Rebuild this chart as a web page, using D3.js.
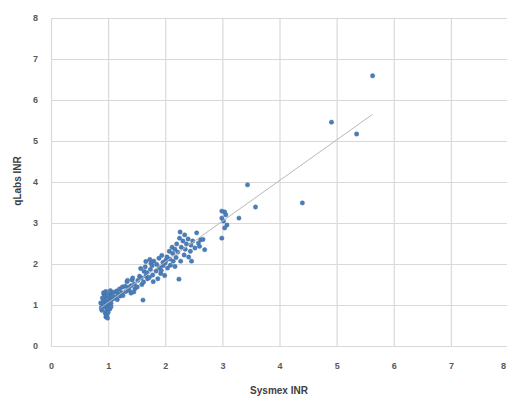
<!DOCTYPE html>
<html><head><meta charset="utf-8">
<script src="https://cdn.jsdelivr.net/npm/d3@7"></script>
<style>html,body{margin:0;padding:0;background:#fff;overflow:hidden}</style>
</head><body><svg id="c" width="507" height="399"></svg>
<script>
const xTicks = [0,1,2,3,4,5,6,7,8];
const yTicks = [0,1,2,3,4,5,6,7,8];
const xTitle = "Sysmex INR";
const yTitle = "qLabs INR";
const sysmex = [
0.87,0.91,0.92,0.89,0.93,0.95,0.88,0.94,0.95,0.97,0.93,0.96,0.96,1.01,0.97,0.98,0.92,0.98,0.99,1.03,1.00,1.00,0.95,1.02,1.06,1.03,1.04,1.05,0.90,0.99,0.96,1.09,1.08,1.05,0.99,1.04,1.10,1.13,1.17,
1.15,1.21,1.20,1.24,1.25,1.31,1.30,1.37,1.35,1.33,1.40,1.40,1.42,1.47,1.46,1.43,1.51,1.16,1.26,1.34,1.45,
1.52,1.55,1.59,1.58,1.63,1.62,1.66,1.65,1.69,1.68,1.75,1.72,1.74,1.79,1.77,1.78,1.80,1.84,1.87,1.85,1.89,1.92,1.90,1.96,1.93,1.94,1.96,2.01,1.99,1.61,1.66,1.73,1.57,
2.00,2.04,2.03,2.07,2.09,2.08,2.12,2.14,2.13,2.17,2.17,2.19,2.20,2.22,2.27,2.25,2.26,2.28,2.33,2.31,2.34,2.35,2.37,2.41,2.40,2.44,2.46,2.45,2.48,2.52,2.24,2.55,2.58,2.60,2.62,2.66,2.69,
2.99,3.04,2.99,3.08,3.04,2.99,3.02,3.06,
3.29,3.44,3.58,4.40,4.91,5.35,5.63];
const qlabs = [
1.05,0.98,1.10,0.87,1.02,1.21,0.93,1.13,0.80,1.06,1.26,0.94,0.71,1.12,0.84,1.00,1.30,0.76,0.92,1.19,1.07,0.82,1.23,0.99,1.13,0.90,1.27,1.04,1.17,1.24,1.33,1.16,1.21,0.96,0.68,1.35,1.31,1.19,1.28,
1.34,1.22,1.39,1.30,1.44,1.33,1.46,1.36,1.43,1.57,1.29,1.47,1.61,1.40,1.51,1.66,1.44,1.13,1.23,1.60,1.32,
1.60,1.70,1.50,1.66,1.82,1.56,1.71,1.93,1.64,1.79,2.02,1.67,1.87,1.57,1.96,1.73,2.07,1.83,1.64,1.99,2.14,1.77,1.91,2.04,1.84,2.21,1.96,2.09,1.72,1.12,2.06,2.11,1.89,
2.03,1.90,2.17,2.31,1.97,2.12,2.41,2.07,2.26,1.94,2.36,2.16,2.49,2.29,2.07,2.63,2.78,2.41,2.22,2.56,2.71,2.36,2.49,2.17,2.61,2.31,2.07,2.46,2.56,2.39,1.63,2.76,2.51,2.43,2.59,2.60,2.35,
3.29,3.27,3.12,2.95,2.88,2.63,3.05,3.20,
3.12,3.93,3.39,3.49,5.46,5.17,6.59];

const W = 507;
const svg = d3.select("#c");
const x = d3.scaleLinear().domain([0,8]).range([51,508]);
const y = d3.scaleLinear().domain([0,8]).range([346,18]);
const font = "Liberation Sans, Arial, sans-serif";

// gridlines + x tick labels
const gx = svg.append("g").attr("transform","translate(0,346)")
  .call(d3.axisBottom(x).tickValues(xTicks).tickSize(-328).tickFormat(d=>d).tickPadding(17));
gx.select(".domain").remove();
gx.selectAll("line").attr("stroke","#d9d9d9").attr("stroke-width",1.2);
gx.selectAll("text").attr("fill","#595959").attr("font-family",font).attr("font-size","9px").attr("font-weight","bold");
// keep the last label inside the frame
gx.selectAll(".tick").each(function(d){
  const tx = x(d);
  if (tx > W - 5) d3.select(this).select("text").attr("dx", (W - 4 - tx) + "px");
});

const gy = svg.append("g").attr("transform","translate(51,0)")
  .call(d3.axisLeft(y).tickValues(yTicks).tickSize(-460).tickFormat(d=>d).tickPadding(13));
gy.select(".domain").remove();
gy.selectAll("line").attr("stroke","#d9d9d9").attr("stroke-width",1.2);
gy.selectAll("text").attr("fill","#595959").attr("font-family",font).attr("font-size","9px").attr("font-weight","bold");

// points
const data = sysmex.map((v,i)=>({x:v,y:qlabs[i]}));
svg.append("g").selectAll("circle").data(data).join("circle")
  .attr("cx",d=>x(d.x)).attr("cy",d=>y(d.y)).attr("r",2.2)
  .attr("fill","#4a7ebb").attr("stroke","#3d6aa0").attr("stroke-width",0.4);

// linear trendline (least squares)
const mx = d3.mean(data,d=>d.x), my = d3.mean(data,d=>d.y);
const slope = d3.sum(data,d=>(d.x-mx)*(d.y-my))/d3.sum(data,d=>(d.x-mx)*(d.x-mx));
const icpt = my - slope*mx;
const [x0,x1] = d3.extent(data,d=>d.x);
svg.append("line").attr("x1",x(x0)).attr("y1",y(icpt+slope*x0))
  .attr("x2",x(x1)).attr("y2",y(icpt+slope*x1))
  .attr("stroke","#b8b8b8").attr("stroke-width",1);

// titles
svg.append("text").attr("x",279).attr("y",394).attr("text-anchor","middle")
  .attr("font-family",font).attr("font-size","10px").attr("font-weight","bold").attr("fill","#404040").text(xTitle);
svg.append("text").attr("transform","translate(21,181) rotate(-90)").attr("text-anchor","middle")
  .attr("font-family",font).attr("font-size","10px").attr("font-weight","bold").attr("fill","#404040").text(yTitle);
</script></body></html>
